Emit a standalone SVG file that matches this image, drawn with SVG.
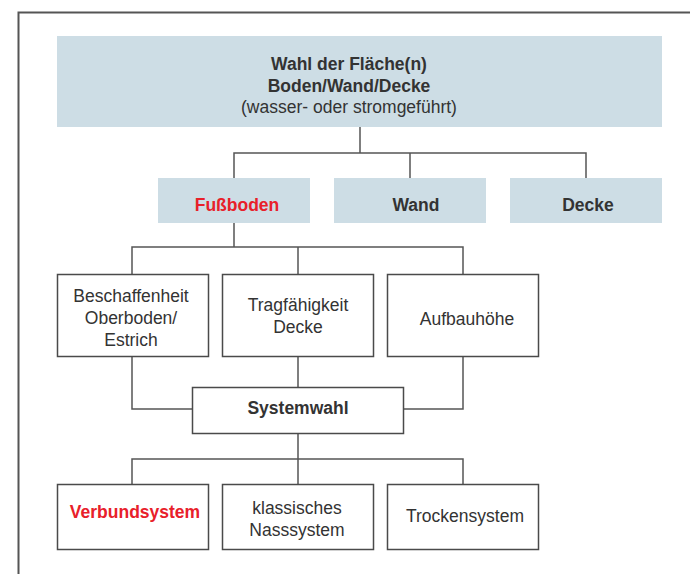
<svg xmlns="http://www.w3.org/2000/svg" width="690" height="574" viewBox="0 0 690 574">
<style>
.frame{fill:none;stroke:#555;stroke-width:2}
.blue{fill:#cddde5}
.box{fill:#fff;stroke:#4a4a4a;stroke-width:1.5}
.conn{fill:none;stroke:#555;stroke-width:1.5}
text{font-family:"Liberation Sans",Arial,sans-serif;fill:#333;text-anchor:middle;font-size:17.5px}
.b{font-weight:bold}
.red{fill:#e8202a}
</style>
<rect width="690" height="574" fill="#fff"/>
<path class="frame" d="M18.5 600 V12.5 H700"/>
<g id="connectors">
<path class="conn" d="M360 126 V153 M234 178 V153 H586 V178 M410 153 V178"/>
<path class="conn" d="M234 223 V247 M132 274 V247 H463 V274 M298 247 V274"/>
<path class="conn" d="M132 357 V409 H192 M463 357 V409 H404 M298 357 V387"/>
<path class="conn" d="M298 433 V484 M132 484 V459 H463 V484"/>
</g>
<g id="n-top">
<rect class="blue" x="57" y="36" width="605" height="91"/>
<text class="b" x="349" y="70">Wahl der Fläche(n)</text>
<text class="b" x="349" y="92">Boden/Wand/Decke</text>
<text x="349" y="113">(wasser- oder stromgeführt)</text>
</g>
<g id="n-fussboden">
<rect class="blue" x="158" y="178" width="152" height="45"/>
<text class="b red" x="237" y="211">Fußboden</text>
</g>
<g id="n-wand">
<rect class="blue" x="334" y="178" width="152" height="45"/>
<text class="b" x="416" y="211">Wand</text>
</g>
<g id="n-decke">
<rect class="blue" x="510" y="178" width="152" height="45"/>
<text class="b" x="588" y="211">Decke</text>
</g>
<g id="n-beschaffenheit">
<rect class="box" x="57.5" y="274.5" width="151" height="82"/>
<text x="131" y="302">Beschaffenheit</text>
<text x="131" y="324">Oberboden/</text>
<text x="131" y="346">Estrich</text>
</g>
<g id="n-tragfaehigkeit">
<rect class="box" x="222.5" y="274.5" width="151" height="82"/>
<text x="298" y="311">Tragfähigkeit</text>
<text x="298" y="333">Decke</text>
</g>
<g id="n-aufbauhoehe">
<rect class="box" x="387.5" y="274.5" width="151" height="82"/>
<text x="467" y="325">Aufbauhöhe</text>
</g>
<g id="n-systemwahl">
<rect class="box" x="192.5" y="387.5" width="211" height="46"/>
<text class="b" x="298" y="414">Systemwahl</text>
</g>
<g id="n-verbund">
<rect class="box" x="57.5" y="484.5" width="151" height="65"/>
<text class="b red" x="135" y="518">Verbundsystem</text>
</g>
<g id="n-nass">
<rect class="box" x="222.5" y="484.5" width="151" height="65"/>
<text x="297" y="514">klassisches</text>
<text x="297" y="536">Nasssystem</text>
</g>
<g id="n-trocken">
<rect class="box" x="387.5" y="484.5" width="151" height="65"/>
<text x="465" y="522">Trockensystem</text>
</g>
</svg>
